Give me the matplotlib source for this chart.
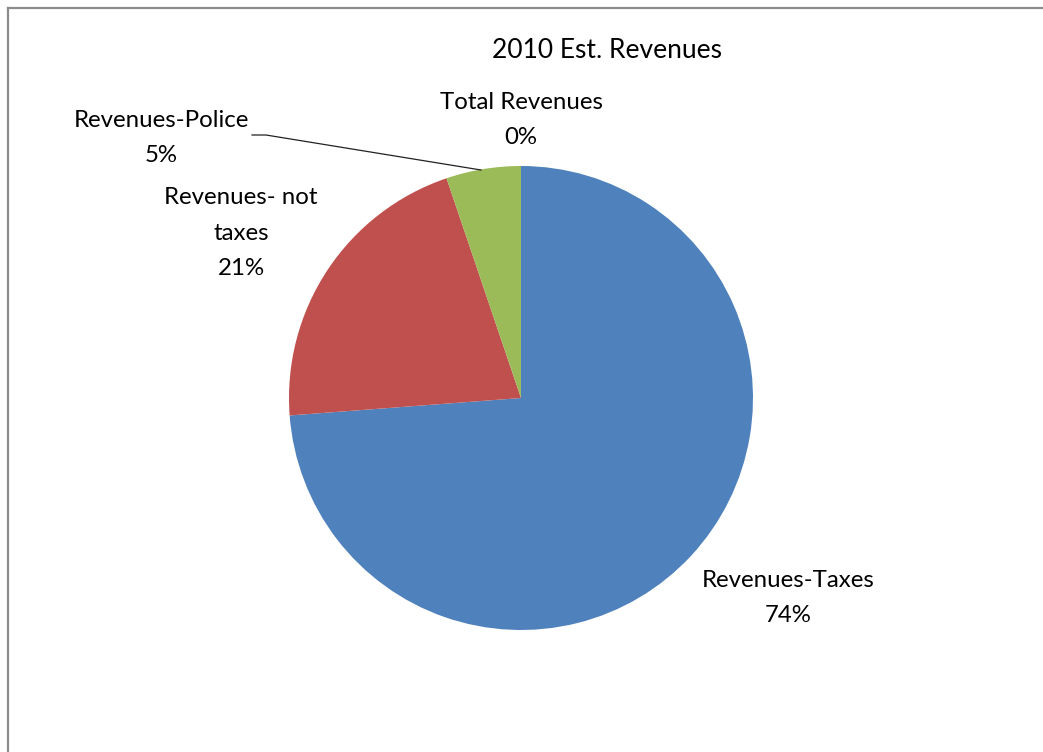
import matplotlib
matplotlib.use("Agg")
import matplotlib.pyplot as plt
from matplotlib.lines import Line2D

categories = ["Revenues-Taxes", "Revenues- not\ntaxes", "Revenues-Police", "Total Revenues"]
values = [73.8, 21.0, 5.2, 0.0]
colors = ["#4F81BD", "#C0504D", "#9BBB59", "#8064A2"]
title = "2010 Est. Revenues"

plt.rcParams['font.family'] = ['Lato', 'DejaVu Sans']

W, H = 1043, 752
fig = plt.figure(figsize=(W / 100, H / 100), dpi=100)
fig.patch.set_facecolor("white")

cx, cy, r = 521, 398, 232
ax = fig.add_axes([(cx - r) / W, (H - cy - r) / H, 2 * r / W, 2 * r / H])
ax.pie(values, colors=colors, startangle=90, counterclock=False,
       radius=1.0, wedgeprops=dict(linewidth=0))
ax.set_xlim(-1, 1)
ax.set_ylim(-1, 1)
ax.set_aspect("equal")
ax.axis("off")

def d(px, py):
    return ((px - cx) / r, (cy - py) / r)

total = sum(values)
label_pos = [(788, 598), (241, 233), (161, 138), (521, 120)]
fs = 17.3
for name, v, (px, py) in zip(categories, values, label_pos):
    x, y = d(px, py)
    ax.text(x, y, f"{name}\n{round(v / total * 100):.0f}%", ha="center", va="center",
            fontsize=fs, linespacing=1.85, color="black", clip_on=False)

# leader line for Revenues-Police
pts = [d(252, 135), d(266, 135), d(481, 170)]
ax.add_line(Line2D([p[0] for p in pts], [p[1] for p in pts], color="#222222",
                   lw=0.9, clip_on=False))

fig.text(607 / W, 1 - 50 / H, title, ha="center", va="center", fontsize=19)

# chart border (top and left visible)
fig.add_artist(Line2D([8 / W, 1.0], [1 - 8 / H, 1 - 8 / H], color="#8c8c8c", lw=1.6,
                      transform=fig.transFigure))
fig.add_artist(Line2D([8 / W, 8 / W], [1 - 8 / H, 0.0], color="#8c8c8c", lw=1.6,
                      transform=fig.transFigure))

fig.savefig("out.png", dpi=100)
